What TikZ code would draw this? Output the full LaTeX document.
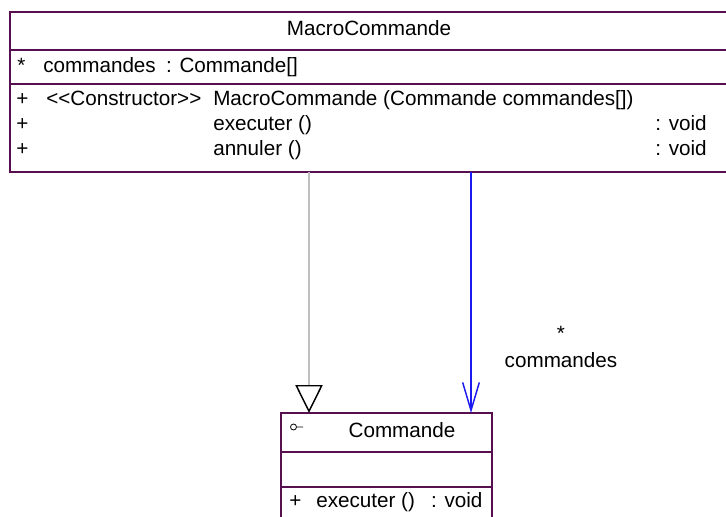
\documentclass[tikz,border=0pt]{standalone}
\usepackage{fontspec}
\setmainfont{Liberation Sans}
\usetikzlibrary{arrows.meta}
\definecolor{umlborder}{HTML}{561050}
\definecolor{assoc}{HTML}{1A1AF0}
\tikzset{
  x=0.75pt, y=-0.75pt,
  umltxt/.style={inner sep=0pt, font=\fontsize{15.5}{18}\selectfont},
  classbox/.style={draw=umlborder, line width=1.6pt, inner sep=0pt, fill=white},
  sepline/.style={draw=umlborder, line width=1.6pt},
  realize/.style={draw=black!25, line width=0.9pt,
    -{Triangle[length=21pt, width=20.5pt, fill=white, color=black, line width=1.1pt]}},
  navig/.style={draw=assoc, line width=1.3pt,
    -{Straight Barb[length=21pt, width=12.5pt, line width=1.1pt]}},
}
\begin{document}
\begin{tikzpicture}
\useasboundingbox (0,0) rectangle (726,517);

% class MacroCommande (runs past the right edge)
\node[classbox, minimum width=547.5pt, minimum height=120pt] (macro) at (375,92) {};
\draw[sepline] (10,50) -- (740,50);
\draw[sepline] (10,84) -- (740,84);
\node[umltxt, anchor=base] (mtitle) at (369,36) {MacroCommande};
\node[umltxt, anchor=base west] (mstar) at (17,73) {*};
\node[umltxt, anchor=base west] (mattr) at (43,73) {commandes\enspace : Commande[]};
\node[umltxt, anchor=base west] (p1) at (16,106) {+};
\node[umltxt, anchor=base west] (p2) at (16,131) {+};
\node[umltxt, anchor=base west] (p3) at (16,156) {+};
\node[umltxt, anchor=base west] (stereo) at (46,106) {<{}<Constructor>{}>};
\node[umltxt, anchor=base west] (op1) at (213,106) {MacroCommande (Commande commandes[])};
\node[umltxt, anchor=base west] (op2) at (213,131) {executer ()};
\node[umltxt, anchor=base west] (op3) at (213,156) {annuler ()};
\node[umltxt, anchor=base east] (ty2) at (707,131) {: void};
\node[umltxt, anchor=base east] (ty3) at (707,156) {: void};

% interface Commande (runs past the bottom edge)
\node[classbox, minimum width=158.25pt, minimum height=87.75pt] (cmd) at (386.5,471.5) {};
\draw[sepline] (281,452) -- (492,452);
\draw[sepline] (281,487) -- (492,487);
\draw[line width=0.6pt] (293.5,427) circle (3) (296.5,427) -- (303,427);
\node[umltxt, anchor=base] (ctitle) at (402,437) {Commande};
\node[umltxt, anchor=base west] (cp) at (289,507) {+};
\node[umltxt, anchor=base west] (cop) at (316,507) {executer ()\enspace\ : void};

% realization and navigable association
\coordinate (rtop) at (309,172);
\coordinate (rend) at (309,413);
\draw[realize] (rtop) -- (rend);
\coordinate (atop) at (471,172);
\coordinate (aend) at (471,413);
\draw[navig] (atop) -- (aend);
\node[umltxt, anchor=base] (mult) at (561,340) {*};
\node[umltxt, anchor=base] (role) at (561,368) {commandes};
\end{tikzpicture}
\end{document}
